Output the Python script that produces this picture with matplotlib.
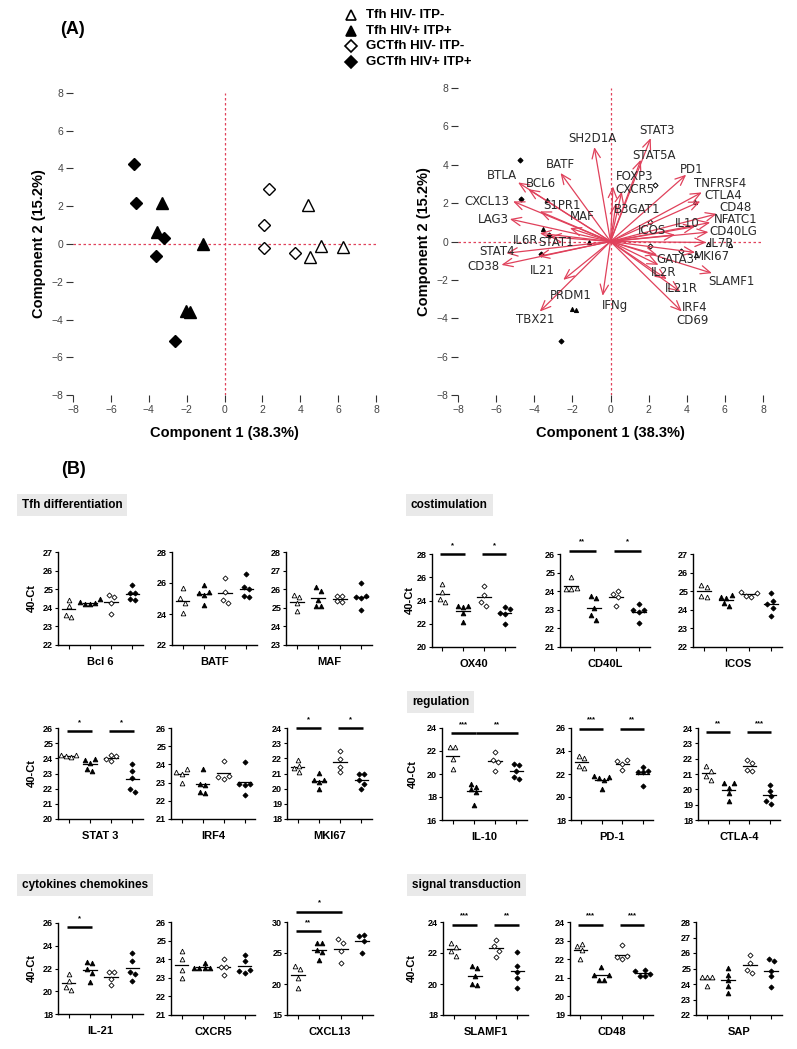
import numpy as np
import matplotlib
matplotlib.use('Agg')
import matplotlib.pyplot as plt

W, H = 797, 1049
BOLD = 'Liberation Sans'

# ---------------- data: PCA scores ----------------
groups = ['Tfh HIV- ITP-', 'Tfh HIV+ ITP+', 'GCTfh HIV- ITP-', 'GCTfh HIV+ ITP+']
pc1_tfh_neg = [4.42, 4.51, 5.09, 6.27]
pc2_tfh_neg = [2.06, -0.70, -0.11, -0.18]
pc1_tfh_pos = [-3.31, -3.56, -1.13, -2.04, -1.80]
pc2_tfh_pos = [2.15, 0.65, -0.02, -3.54, -3.58]
pc1_gc_neg = [2.33, 2.06, 2.06, 3.72]
pc2_gc_neg = [2.93, 1.02, -0.21, -0.48]
pc1_gc_pos = [-4.76, -4.69, -3.21, -3.63, -2.61]
pc2_gc_pos = [4.26, 2.19, 0.32, -0.63, -5.16]

# ---------------- data: biplot loadings ----------------
bi_genes = ['SH2D1A', 'STAT3', 'STAT5A', 'FOXP3', 'CXCR5', 'B3GAT1', 'PD1', 'TNFRSF4',
            'CTLA4', 'CD48', 'NFATC1', 'IL10', 'CD40LG', 'ICOS', 'IL7R', 'MKI67',
            'SLAMF1', 'GATA3', 'IL2R', 'IL21R', 'IRF4', 'CD69', 'IFNg', 'PRDM1',
            'TBX21', 'IL21', 'CD38', 'STAT4', 'IL6R', 'STAT1', 'LAG3', 'CXCL13',
            'BTLA', 'BCL6', 'BATF', 'S1PR1', 'MAF']
bi_tip_x = [-0.85, 2.11, 1.59, 0.13, 0.59, 0.29, 3.97, 4.79,
            4.71, 5.58, 5.23, 4.44, 5.14, 3.39, 5.02, 4.44,
            5.32, 2.45, 2.52, 2.95, 3.65, 3.74, -0.41, -2.48,
            -3.71, -3.79, -5.72, -5.46, -3.71, -3.18, -5.28, -5.11,
            -4.85, -4.32, -2.62, -3.71, -2.13]
bi_tip_y = [4.92, 5.39, 4.26, 2.87, 2.60, 2.00, 3.48, 2.56,
            2.09, 1.44, 0.99, 0.78, 0.49, 0.35, -0.05, -0.57,
            -1.65, -0.70, -1.22, -1.96, -2.61, -3.65, -2.83, -2.00,
            -3.65, -0.78, -1.22, -0.61, 0.43, 0.24, 1.17, 2.09,
            3.08, 2.73, 3.57, 1.57, 0.70]
bi_lab_x = [-0.95, 2.43, 2.29, 1.24, 1.29, 1.38, 4.27, 5.76,
            5.93, 6.55, 6.55, 4.04, 6.46, 2.16, 5.85, 5.32,
            6.32, 3.39, 2.78, 3.74, 4.44, 4.30, 0.24, -2.09,
            -3.93, -3.57, -6.65, -5.95, -4.44, -2.83, -6.16, -6.48,
            -5.67, -3.67, -2.62, -2.53, -1.46]
bi_lab_y = [5.36, 5.79, 4.47, 3.39, 2.70, 1.65, 3.74, 3.01,
            2.38, 1.76, 1.13, 0.92, 0.50, 0.56, -0.13, -0.76,
            -2.09, -0.96, -1.60, -2.45, -3.43, -4.14, -3.34, -2.83,
            -4.09, -1.51, -1.30, -0.52, 0.03, -0.05, 1.13, 2.09,
            3.43, 3.04, 4.00, 1.88, 1.30]

# ---------------- data: qPCR panels (40-Ct), 4 groups each ----------------
bcl6 = [[24.41, 24.12, 23.49, 23.62], [24.30, 24.46, 24.25, 24.19, 24.19],
        [24.57, 24.70, 24.25, 23.65], [25.22, 24.82, 24.79, 24.43, 24.46]]
batf = [[25.67, 25.02, 24.70, 24.05], [25.88, 25.35, 25.40, 25.20, 24.55],
        [26.32, 25.45, 24.70, 24.91], [26.57, 25.73, 25.62, 25.17, 25.11]]
maf = [[25.57, 25.68, 25.25, 24.85], [26.11, 25.91, 25.43, 25.07, 25.07],
       [25.64, 25.64, 25.30, 25.34], [26.33, 25.65, 25.55, 25.60, 24.90]]
ox40 = [[25.43, 24.70, 24.10, 23.90], [23.50, 23.55, 23.40, 22.90, 22.15],
        [25.28, 24.45, 23.52, 23.84], [23.46, 23.26, 22.88, 22.94, 21.96]]
cd40l = [[24.74, 24.16, 24.12, 24.12], [23.62, 23.74, 23.08, 22.44, 22.71],
         [24.01, 23.85, 23.67, 23.20], [23.29, 22.99, 22.99, 22.86, 22.30]]
icos = [[25.34, 25.21, 24.67, 24.74], [24.70, 24.80, 24.65, 24.20, 24.35],
        [24.95, 24.90, 24.70, 24.75], [24.90, 24.50, 24.30, 24.10, 23.65]]
stat3 = [[24.10, 24.20, 24.15, 24.20], [23.95, 23.90, 23.70, 23.15, 23.30],
         [24.15, 24.20, 23.85, 23.95], [23.65, 23.14, 22.70, 21.76, 22.00]]
irf4 = [[23.60, 23.75, 23.50, 23.00], [23.77, 22.94, 22.89, 22.43, 22.47],
        [24.17, 23.31, 23.38, 23.20], [24.15, 22.95, 22.90, 22.85, 22.30]]
mki67 = [[21.86, 21.50, 21.11, 21.37], [21.05, 20.60, 20.60, 20.45, 19.95],
         [22.50, 21.97, 21.07, 21.43], [20.95, 21.00, 20.55, 20.30, 19.95]]
il10 = [[22.34, 22.34, 21.30, 20.45], [19.15, 18.70, 18.85, 18.40, 17.30],
        [21.90, 21.20, 21.05, 20.30], [20.80, 20.89, 20.22, 19.55, 19.73]]
pd1 = [[23.53, 23.38, 22.51, 22.72], [21.73, 21.84, 21.64, 21.44, 20.68],
       [23.24, 23.09, 22.89, 22.37], [22.60, 22.25, 22.20, 22.15, 20.95]]
ctla4 = [[21.51, 21.19, 20.60, 20.90], [20.39, 20.39, 20.10, 19.74, 19.24],
         [21.90, 21.73, 21.23, 21.19], [20.28, 19.89, 19.56, 19.02, 19.24]]
il21 = [[21.54, 20.13, 20.37, 20.87], [22.52, 22.60, 21.94, 21.64, 20.85],
        [21.70, 21.70, 21.10, 20.56], [23.34, 22.69, 21.73, 21.53, 20.94]]
cxcr5 = [[24.42, 24.00, 23.43, 22.98], [23.80, 23.55, 23.50, 23.55, 23.50],
         [24.02, 23.57, 23.60, 23.16], [24.24, 23.91, 23.43, 23.37, 23.28]]
cxcl13 = [[22.39, 22.93, 20.93, 19.31], [26.60, 26.60, 25.50, 25.20, 23.90],
          [26.60, 27.25, 25.25, 23.36], [27.68, 27.95, 26.87, 24.98]]
slamf1 = [[22.64, 22.40, 22.15, 21.82], [21.02, 21.17, 20.52, 19.94, 20.00],
          [22.86, 22.42, 22.16, 21.73], [22.05, 21.17, 20.80, 20.37, 19.72]]
cd48 = [[22.72, 22.81, 22.47, 22.00], [21.60, 21.15, 21.15, 20.90, 20.90],
        [22.75, 22.15, 22.10, 22.00], [21.43, 21.34, 21.12, 21.07, 21.20]]
sap = [[24.45, 24.45, 24.45, 23.87], [25.05, 24.60, 24.25, 23.90, 23.40],
       [25.88, 25.34, 24.70, 24.91], [25.50, 25.60, 24.85, 24.50, 23.80]]

# significance: (group a, group b, bar height, label)
sig = {
    'OX40': [(0, 1, 28.0, '*'), (2, 3, 28.0, '*')],
    'CD40L': [(0, 1, 26.18, '**'), (2, 3, 26.18, '*')],
    'STAT 3': [(0, 1, 25.78, '*'), (2, 3, 25.78, '*')],
    'MKI67': [(0, 1, 24.0, '*'), (2, 3, 24.0, '*')],
    'IL-10': [(0, 1, 23.56, '***'), (1, 3, 23.56, '**')],
    'PD-1': [(0, 1, 25.94, '***'), (2, 3, 25.94, '**')],
    'CTLA-4': [(0, 1, 23.72, '**'), (2, 3, 23.72, '***')],
    'IL-21': [(0, 1, 25.62, '*')],
    'CXCL13': [(0, 1, 28.49, '**'), (0, 2, 31.67, '*')],
    'SLAMF1': [(0, 1, 23.83, '***'), (2, 3, 23.83, '**')],
    'CD48': [(0, 1, 23.86, '***'), (2, 3, 23.86, '***')],
}

# ---------------- styles ----------------
MK = ['^', '^', 'D', 'D']
FILLED = [False, True, False, True]
RED = '#E0415B'


def rect(l, r, t, b):
    return [l / W, 1 - b / H, (r - l) / W, (b - t) / H]


fig = plt.figure(figsize=(W / 100, H / 100), dpi=100)

# ---------------- PCA score plot ----------------
def style_pca(ax):
    ax.set_xlim(-8, 8)
    ax.set_ylim(-8, 8)
    for s in ax.spines.values():
        s.set_visible(False)
    ax.set_xticks(np.arange(-8, 9, 2))
    ax.set_yticks(np.arange(-8, 9, 2))
    ax.tick_params(direction='out', length=5, width=0.8, color='#333333',
                   labelsize=7.5, labelcolor='#444444', pad=2)
    for lab in ax.get_xticklabels() + ax.get_yticklabels():
        lab.set_fontfamily(BOLD)
    ax.plot([-8, 8], [0, 0], color=RED, lw=0.9, ls=(0, (2, 2)), zorder=1)
    ax.plot([0, 0], [-8, 8], color=RED, lw=0.9, ls=(0, (2, 2)), zorder=1)
    ax.set_xlabel('Component 1 (38.3%)', fontsize=10.5, fontweight='bold',
                  family=BOLD, labelpad=8)
    ax.set_ylabel('Component 2 (15.2%)', fontsize=10.5, fontweight='bold',
                  family=BOLD, labelpad=4)


score_sets = [(pc1_tfh_neg, pc2_tfh_neg), (pc1_tfh_pos, pc2_tfh_pos),
              (pc1_gc_neg, pc2_gc_neg), (pc1_gc_pos, pc2_gc_pos)]

axA = fig.add_axes(rect(73, 376, 93, 395))
style_pca(axA)
big_sizes = [8.5, 8.5, 6.5, 6.0]
for i, (xs, ys) in enumerate(score_sets):
    axA.plot(xs, ys, ls='none', marker=MK[i], ms=big_sizes[i],
             mfc='black' if FILLED[i] else 'white', mec='black', mew=1.0, zorder=3)

# ---------------- biplot ----------------
axB = fig.add_axes(rect(458, 763, 88, 395))
style_pca(axB)
for i, (xs, ys) in enumerate(score_sets):
    axB.plot(xs, ys, ls='none', marker=MK[i], ms=3 if i < 2 else 2.6,
             mfc='black' if FILLED[i] else 'white', mec='black', mew=0.7, zorder=3)
for g, tx, ty, lx, ly in zip(bi_genes, bi_tip_x, bi_tip_y, bi_lab_x, bi_lab_y):
    axB.annotate('', xy=(tx, ty), xytext=(0, 0),
                 arrowprops=dict(arrowstyle='->,head_length=0.7,head_width=0.3',
                                 color=RED, lw=0.9, shrinkA=0, shrinkB=0,
                                 mutation_scale=10), zorder=4)
    axB.text(lx, ly, g, fontsize=8.5, color='#2a2a2a', ha='center', va='center',
             family='DejaVu Sans', zorder=5)

# ---------------- overlay for free texts / legend ----------------
ov = fig.add_axes([0, 0, 1, 1], zorder=-1)
ov.set_xlim(0, W)
ov.set_ylim(H, 0)
ov.axis('off')

ov.text(60, 30, '(A)', fontsize=13, fontweight='bold', family=BOLD, va='center')
ov.text(61, 470, '(B)', fontsize=13, fontweight='bold', family=BOLD, va='center')

leg_y = [15, 31, 46, 62]
for i, g in enumerate(groups):
    ov.plot([351], [leg_y[i]], ls='none', marker=MK[i],
            ms=7.5 if i < 2 else 6, mfc='black' if FILLED[i] else 'white',
            mec='black', mew=1.2)
    ov.text(366, leg_y[i], g, fontsize=9.5, fontweight='bold', family=BOLD,
            va='center', ha='left')

headers = [('Tfh differentiation', 22, 505), ('costimulation', 411, 505),
           ('regulation', 412, 702), ('cytokines chemokines', 22, 885),
           ('signal transduction', 412, 885)]
for txt, x, y in headers:
    ov.text(x, y, txt, fontsize=8.5, fontweight='bold', family=BOLD, va='center',
            ha='left', bbox=dict(facecolor='#e9e9e9', edgecolor='none', pad=3.5))

ylab_pos = [(32, 598), (410, 600), (32, 773), (413, 774), (32, 968), (412, 968)]
for x, y in ylab_pos:
    ov.text(x, y, '40-Ct', fontsize=8, fontweight='bold', family=BOLD,
            rotation=90, ha='center', va='center')

# ---------------- dot panels ----------------
panels = [
    ('Bcl 6', bcl6, 22, 27, 1, (58, 143, 552, 645)),
    ('BATF', batf, 22, 28, 2, (172, 257, 552, 645)),
    ('MAF', maf, 23, 28, 1, (286, 372, 552, 645)),
    ('OX40', ox40, 20, 28, 2, (432, 515, 554, 647)),
    ('CD40L', cd40l, 21, 26, 1, (560, 650, 554, 647)),
    ('ICOS', icos, 22, 27, 1, (693, 782, 554, 647)),
    ('STAT 3', stat3, 20, 26, 1, (58, 143, 728, 819)),
    ('IRF4', irf4, 21, 26, 1, (171, 255, 728, 819)),
    ('MKI67', mki67, 18, 24, 1, (287, 372, 728, 819)),
    ('IL-10', il10, 16, 24, 2, (442, 527, 728, 820)),
    ('PD-1', pd1, 18, 26, 2, (571, 653, 728, 820)),
    ('CTLA-4', ctla4, 18, 24, 1, (698, 780, 728, 820)),
    ('IL-21', il21, 18, 26, 2, (58, 143, 923, 1014)),
    ('CXCR5', cxcr5, 21, 26, 1, (171, 255, 922, 1015)),
    ('CXCL13', cxcl13, 15, 30, 5, (287, 373, 922, 1015)),
    ('SLAMF1', slamf1, 18, 24, 2, (443, 528, 922, 1015)),
    ('CD48', cd48, 19, 24, 1, (570, 653, 922, 1015)),
    ('SAP', sap, 22, 28, 1, (696, 782, 922, 1015)),
]


def swarm(vals, thr, d=0.24):
    vals = np.asarray(vals, float)
    order = np.argsort(vals)
    offs = np.zeros(len(vals))
    placed = []
    for i in order:
        for cand in [0, -d, d, -2 * d, 2 * d]:
            ok = True
            for j in placed:
                if abs(vals[i] - vals[j]) < thr and abs(cand - offs[j]) < d * 0.9:
                    ok = False
                    break
            if ok:
                offs[i] = cand
                break
        placed.append(i)
    sv = vals[order]
    clusters, cur = [], [order[0]]
    for k in range(1, len(order)):
        if sv[k] - sv[k - 1] < thr:
            cur.append(order[k])
        else:
            clusters.append(cur)
            cur = [order[k]]
    clusters.append(cur)
    for c in clusters:
        offs[c] -= offs[c].mean()
    return offs


for name, data, y0, y1, step, (l, r, t, b) in panels:
    ax = fig.add_axes(rect(l, r, t, b))
    ax.set_xlim(-0.5, 3.5)
    ax.set_ylim(y0, y1)
    for s in ['top', 'right']:
        ax.spines[s].set_visible(False)
    for s in ['left', 'bottom']:
        ax.spines[s].set_linewidth(1.0)
    ax.set_yticks(np.arange(y0, y1 + 0.01, step))
    ax.set_xticks([0, 1, 2, 3])
    ax.set_xticklabels([])
    ax.tick_params(axis='y', direction='out', length=2.5, width=0.8, pad=1,
                   labelsize=6.5)
    ax.tick_params(axis='x', direction='out', length=3, width=0.8)
    for lab in ax.get_yticklabels():
        lab.set_fontweight('bold')
        lab.set_fontfamily(BOLD)
    ax.set_xlabel(name, fontsize=8, fontweight='bold', family=BOLD, labelpad=2)
    thr = 0.055 * (y1 - y0)
    for gi, vals in enumerate(data):
        offs = swarm(vals, thr)
        ax.plot(gi + offs, vals, ls='none', marker=MK[gi],
                ms=3.4 if gi < 2 else 2.6,
                mfc='black' if FILLED[gi] else 'white', mec='black', mew=0.6,
                clip_on=False, zorder=3)
        m = np.mean(vals)
        ax.plot([gi - 0.32, gi + 0.32], [m, m], color='black', lw=0.9, zorder=2)
    for a, bb, yb, lab in sig.get(name, []):
        xa = a - 0.1 if not (name == 'IL-10' and a == 1) else a + 0.12
        ax.plot([xa, bb + 0.08], [yb, yb], color='black', lw=1.8, clip_on=False,
                solid_capstyle='butt')
        ax.text((xa + bb + 0.08) / 2, yb + 0.035 * (y1 - y0) * 1.6, lab,
                fontsize=5.5, fontweight='bold', ha='center', va='bottom',
                family=BOLD, clip_on=False)

fig.savefig('out.png', dpi=100)
